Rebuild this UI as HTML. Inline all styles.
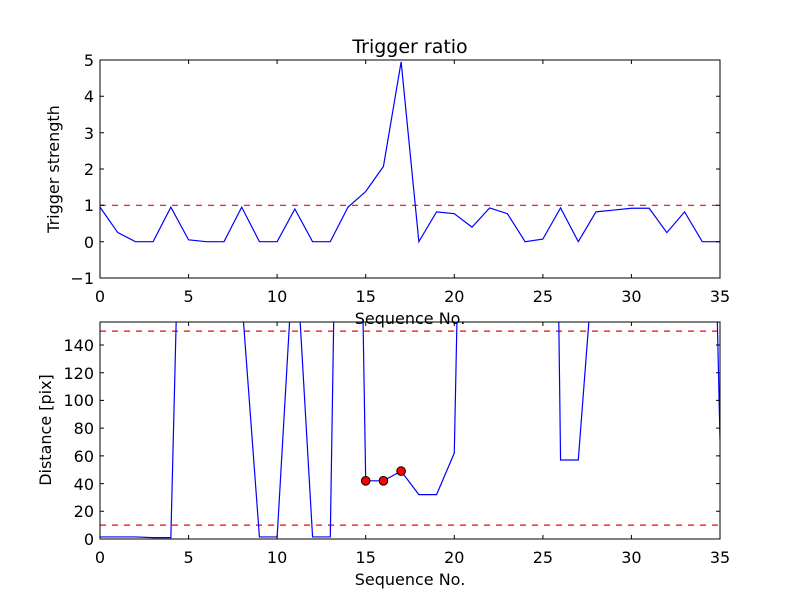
<!DOCTYPE html>
<html><head><meta charset="utf-8"><style>html,body{margin:0;padding:0;background:#fff}svg{display:block}text{font-family:"DejaVu Sans","Liberation Sans",sans-serif;fill:#000}</style></head><body>
<svg width="800" height="600" viewBox="0 0 800 600" xmlns="http://www.w3.org/2000/svg">
<defs>
<clipPath id="c1"><rect x="100" y="60" width="620" height="218"/></clipPath>
<clipPath id="c2"><rect x="100" y="322" width="620" height="217"/></clipPath>
</defs>
<rect width="800" height="600" fill="#fff"/>
<!-- TOP -->
<g clip-path="url(#c1)">
<line x1="100" y1="205.3" x2="720" y2="205.3" stroke="#f00" stroke-width="1.2" stroke-dasharray="6,6"/>
<g transform="translate(100,241.67) scale(17.714,-36.333)">
<polyline fill="none" stroke="#00f" stroke-width="1.2" vector-effect="non-scaling-stroke" points="0,0.95 1,0.25 2,0 3,0 4,0.95 5,0.05 6,0 7,0 8,0.95 9,0 10,0 11,0.9 12,0 13,0 14,0.95 15,1.38 16,2.07 17,4.95 18,0 19,0.82 20,0.77 21,0.4 22,0.93 23,0.77 24,0 25,0.07 26,0.93 27,0 28,0.82 29,0.87 30,0.92 31,0.92 32,0.25 33,0.82 34,0 35,0"/>
</g>
</g>
<rect x="100" y="60" width="620" height="218" fill="none" stroke="#000" stroke-width="1"/>
<g stroke="#000" stroke-width="1">
<path d="M100,278v-4M100,60v4M188.6,278v-4M188.6,60v4M277.1,278v-4M277.1,60v4M365.7,278v-4M365.7,60v4M454.3,278v-4M454.3,60v4M542.9,278v-4M542.9,60v4M631.4,278v-4M631.4,60v4M720,278v-4M720,60v4"/>
<path d="M100,60h4M720,60h-4M100,96.3h4M720,96.3h-4M100,132.7h4M720,132.7h-4M100,169h4M720,169h-4M100,205.3h4M720,205.3h-4M100,241.7h4M720,241.7h-4M100,278h4M720,278h-4"/>
</g>
<g font-size="16" text-anchor="middle">
<text x="100" y="302">0</text><text x="188.6" y="302">5</text><text x="277.1" y="302">10</text><text x="365.7" y="302">15</text><text x="454.3" y="302">20</text><text x="542.9" y="302">25</text><text x="631.4" y="302">30</text><text x="720" y="302">35</text>
</g>
<g font-size="16" text-anchor="end">
<text x="94" y="66">5</text><text x="94" y="102">4</text><text x="94" y="139">3</text><text x="94" y="175">2</text><text x="94" y="211">1</text><text x="94" y="248">0</text><text x="94" y="284">−1</text>
</g>
<text x="410" y="53" font-size="19" text-anchor="middle">Trigger ratio</text>
<text x="410" y="324" font-size="16" text-anchor="middle">Sequence No.</text>
<text transform="translate(59,169) rotate(-90)" font-size="16" text-anchor="middle">Trigger strength</text>
<!-- BOTTOM -->
<g clip-path="url(#c2)">
<line x1="100" y1="331.1" x2="720" y2="331.1" stroke="#f00" stroke-width="1.2" stroke-dasharray="6,6"/>
<line x1="100" y1="525.1" x2="720" y2="525.1" stroke="#f00" stroke-width="1.2" stroke-dasharray="6,6"/>
<g transform="translate(100,539) scale(17.714,-1.3857)">
<polyline fill="none" stroke="#00f" stroke-width="1.2" vector-effect="non-scaling-stroke" points="0,1.5 1,1.5 2,1.5 3,1 4,1 5,520 6,520 7,520 8,174 9,1.5 10,1.5 11,223 12,1.5 13,1.5 14,809 15,42 16,42 17,49 18,32 19,32 20,62 21,695 22,695 23,695 24,695 25,1057 26,57 27,57 28,224 29,600 30,600 31,600 32,600 33,600 34,639 35,72"/>
</g>
</g>
<g fill="#f00" stroke="#000" stroke-width="1">
<circle cx="365.7" cy="480.8" r="4.3"/><circle cx="383.4" cy="480.8" r="4.3"/><circle cx="401.1" cy="471.1" r="4.3"/>
</g>
<rect x="100" y="322" width="620" height="217" fill="none" stroke="#000" stroke-width="1"/>
<g stroke="#000" stroke-width="1">
<path d="M100,539v-4M100,322v4M188.6,539v-4M188.6,322v4M277.1,539v-4M277.1,322v4M365.7,539v-4M365.7,322v4M454.3,539v-4M454.3,322v4M542.9,539v-4M542.9,322v4M631.4,539v-4M631.4,322v4M720,539v-4M720,322v4"/>
<path d="M100,539h4M720,539h-4M100,511.3h4M720,511.3h-4M100,483.6h4M720,483.6h-4M100,455.9h4M720,455.9h-4M100,428.1h4M720,428.1h-4M100,400.4h4M720,400.4h-4M100,372.7h4M720,372.7h-4M100,345h4M720,345h-4"/>
</g>
<g font-size="16" text-anchor="middle">
<text x="100" y="563">0</text><text x="188.6" y="563">5</text><text x="277.1" y="563">10</text><text x="365.7" y="563">15</text><text x="454.3" y="563">20</text><text x="542.9" y="563">25</text><text x="631.4" y="563">30</text><text x="720" y="563">35</text>
</g>
<g font-size="16" text-anchor="end">
<text x="94" y="545">0</text><text x="94" y="517">20</text><text x="94" y="490">40</text><text x="94" y="462">60</text><text x="94" y="434">80</text><text x="94" y="406">100</text><text x="94" y="379">120</text><text x="94" y="351">140</text>
</g>
<text x="410" y="585" font-size="16" text-anchor="middle">Sequence No.</text>
<text transform="translate(51,430) rotate(-90)" font-size="16" text-anchor="middle">Distance [pix]</text>
</svg>
</body></html>
